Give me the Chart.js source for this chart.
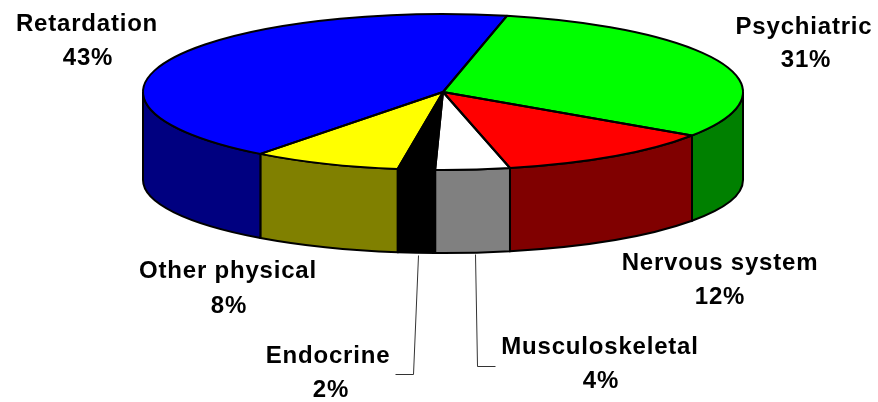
<!DOCTYPE html>
<html>
<head>
<meta charset="utf-8">
<title>Disability pie</title>
<script src="https://cdn.jsdelivr.net/npm/chart.js@4"></script>
<style>
    html, body { margin: 0; padding: 0; background: #fff; }
    canvas { display: block; }
</style>
</head>
<body>
<canvas id="pieChart" width="878" height="402"></canvas>
<script>
const categories = ['Psychiatric', 'Nervous system', 'Musculoskeletal', 'Endocrine', 'Other physical', 'Retardation'];
const shares = [31, 12, 4, 2, 8, 43];
const topColors = ['#00ff00', '#ff0000', '#ffffff', '#000000', '#ffff00', '#0000ff'];
const sideColors = ['#008000', '#800000', '#808080', '#000000', '#808000', '#000080'];

// label centres: name line, then percent line
const labelSpots = [
    [804, 27, 806, 60],
    [720, 263, 720, 297],
    [600, 347, 601, 381],
    [328, 356, 331, 390],
    [228, 271, 229, 306],
    [87, 24, 88, 58]
];
const leaders = [
    [[418, 255], [413, 374], [395, 374]],
    [[475, 254], [477, 366], [495, 366]]
];

// the tilted disc: Chart.js draws a round pie, the plugin squashes it
const disc = { x: 443, y: 92, rx: 300, ry: 78, floorY: 180, floorRy: 73 };

function slicePath(ctx, a, b) {
    ctx.beginPath();
    ctx.moveTo(disc.x, disc.y);
    ctx.ellipse(disc.x, disc.y, disc.rx, disc.ry, 0, a, b);
    ctx.closePath();
}

function wallPath(ctx, a, b) {
    ctx.beginPath();
    ctx.ellipse(disc.x, disc.y, disc.rx, disc.ry, 0, a, b);
    ctx.ellipse(disc.x, disc.floorY, disc.rx, disc.floorRy, 0, b, a, true);
    ctx.closePath();
}

const tiltedPie = {
    id: 'tiltedPie',
    beforeDatasetsDraw(chart) {
        const ctx = chart.ctx;
        const arcs = chart.getDatasetMeta(0).data;

        // walls only show on the front half of the disc
        ctx.save();
        ctx.lineWidth = 2;
        ctx.strokeStyle = '#000';
        arcs.forEach((arc, i) => {
            const a = Math.max(arc.startAngle, 0);
            const b = Math.min(arc.endAngle, Math.PI);
            if (b <= a) return;
            wallPath(ctx, a, b);
            ctx.fillStyle = sideColors[i];
            ctx.fill();
            ctx.stroke();
        });
        ctx.restore();

        const first = arcs[0];
        ctx.save();
        ctx.translate(disc.x, disc.y);
        ctx.scale(disc.rx / first.outerRadius, disc.ry / first.outerRadius);
        ctx.translate(-first.x, -first.y);
    },
    afterDatasetsDraw(chart) {
        const ctx = chart.ctx;
        ctx.restore();

        ctx.save();
        ctx.lineWidth = 2;
        ctx.lineJoin = 'round';
        ctx.strokeStyle = '#000';
        chart.getDatasetMeta(0).data.forEach(arc => {
            slicePath(ctx, arc.startAngle, arc.endAngle);
            ctx.stroke();
        });

        ctx.lineWidth = 1;
        ctx.strokeStyle = '#333';
        leaders.forEach(line => {
            ctx.beginPath();
            line.forEach((p, i) => i ? ctx.lineTo(p[0] + 0.5, p[1] + 0.5) : ctx.moveTo(p[0] + 0.5, p[1] + 0.5));
            ctx.stroke();
        });

        ctx.fillStyle = '#000';
        ctx.font = 'bold 24px "Liberation Sans", Arial, sans-serif';
        ctx.letterSpacing = '0.8px';
        ctx.textAlign = 'center';
        ctx.textBaseline = 'middle';
        categories.forEach((name, i) => {
            const s = labelSpots[i];
            ctx.fillText(name, s[0], s[1]);
            ctx.fillText(shares[i] + '%', s[2], s[3]);
        });
        ctx.restore();
    }
};

new Chart(document.getElementById('pieChart'), {
    type: 'pie',
    data: {
        labels: categories,
        datasets: [{
            data: shares,
            backgroundColor: topColors,
            borderWidth: 0,
            clip: false
        }]
    },
    options: {
        responsive: false,
        animation: false,
        rotation: 12.3,
        plugins: { legend: { display: false }, tooltip: { enabled: false } }
    },
    plugins: [tiltedPie]
});
</script>
</body>
</html>
